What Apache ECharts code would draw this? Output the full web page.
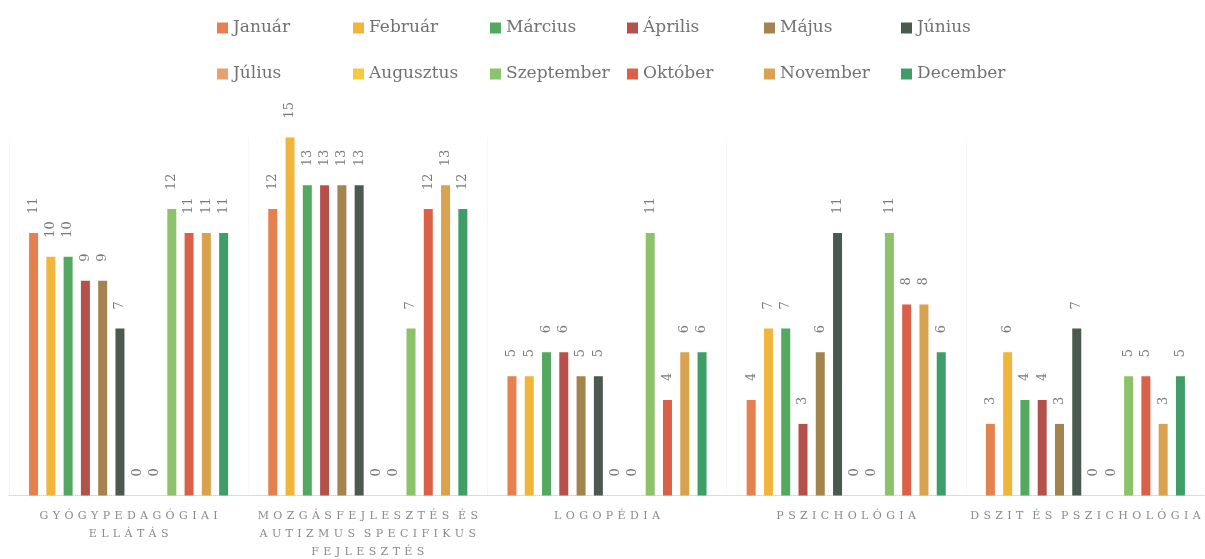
<!DOCTYPE html>
<html>
<head>
<meta charset="utf-8">
<script src="https://cdn.jsdelivr.net/npm/echarts@6/dist/echarts.min.js"></script>
<style>
  html, body { margin: 0; padding: 0; background: #ffffff; }
  #chart { width: 1205px; height: 559px; }
</style>
</head>
<body>
<div id="chart"></div>
<script>
// Service categories (x axis)
const categories = [
  'GYÓGYPEDAGÓGIAI\nELLÁTÁS',
  'MOZGÁSFEJLESZTÉS ÉS\nAUTIZMUS SPECIFIKUS\nFEJLESZTÉS',
  'LOGOPÉDIA',
  'PSZICHOLÓGIA',
  'DSZIT ÉS PSZICHOLÓGIA'
];

// Months (one series each)
const months = [
  'Január', 'Február', 'Március', 'Április', 'Május', 'Június',
  'Július', 'Augusztus', 'Szeptember', 'Október', 'November', 'December'
];

// Values per month, in category order
const januar     = [11, 12, 5, 4, 3];
const februar    = [10, 15, 5, 7, 6];
const marcius    = [10, 13, 6, 7, 4];
const aprilis    = [9, 13, 6, 3, 4];
const majus      = [9, 13, 5, 6, 3];
const junius     = [7, 13, 5, 11, 7];
const julius     = [0, 0, 0, 0, 0];
const augusztus  = [0, 0, 0, 0, 0];
const szeptember = [12, 7, 11, 11, 5];
const oktober    = [11, 12, 4, 8, 5];
const november   = [11, 13, 6, 8, 3];
const december   = [11, 12, 6, 6, 5];

const monthValues = [
  januar, februar, marcius, aprilis, majus, junius,
  julius, augusztus, szeptember, oktober, november, december
];

const colors = [
  '#E5814F', '#F2B53C', '#55A860', '#B4514A', '#A3844F', '#4B5A50',
  '#E9A06E', '#F3CB3D', '#8CC36A', '#DA6148', '#D9A24F', '#3F9E68'
];

const serif = '"DejaVu Serif", "Liberation Serif", serif';

// widen the caption lettering
function spaced(text) {
  return text.split('\n').map(function (line) {
    return line.split(' ').map(function (w) {
      return Array.from(w).join('\u2009\u2009');
    }).join('\u2009\u2009\u2009\u2009');
  }).join('\n');
}

const series = months.map(function (name, i) {
  return {
    name: name,
    type: 'bar',
    data: monthValues[i],
    barWidth: 9,
    barGap: '92%',
    itemStyle: { color: colors[i] },
    label: {
      show: true,
      position: 'top',
      rotate: 90,
      align: 'left',
      verticalAlign: 'middle',
      distance: 19,
      color: '#7a7a7a',
      fontFamily: serif,
      fontSize: 13
    }
  };
});

// legend: six columns of two entries
const legendColumnsX = [212, 348, 485, 622, 759, 896];
const legends = legendColumnsX.map(function (x, c) {
  return {
    orient: 'vertical',
    left: x,
    top: 13,
    itemWidth: 11,
    itemHeight: 11,
    itemGap: 26,
    icon: 'rect',
    data: [months[c], months[c + 6]],
    textStyle: {
      color: '#727272',
      fontFamily: serif,
      fontSize: 17,
      lineHeight: 20
    }
  };
});

const chart = echarts.init(document.getElementById('chart'), null, { renderer: 'canvas' });
chart.setOption({
  animation: false,
  backgroundColor: '#ffffff',
  color: colors,
  legend: legends,
  grid: {
    left: 9,
    right: 0,
    top: 137.5,
    bottom: 63.5,
    containLabel: false,
    outerBoundsMode: 'none'
  },
  xAxis: {
    type: 'category',
    data: categories,
    axisLine: { show: true, lineStyle: { color: '#d4d4d4', type: 'dotted', width: 1 } },
    axisTick: { show: false },
    splitLine: { show: true, lineStyle: { color: '#f7f7f7', width: 1 } },
    axisLabel: {
      interval: 0,
      margin: 12,
      color: '#8a8a8a',
      fontFamily: serif,
      fontSize: 11,
      lineHeight: 18,
      formatter: function (v) { return spaced(v); }
    }
  },
  yAxis: {
    type: 'value',
    min: 0,
    max: 15,
    show: false,
    splitLine: { show: false }
  },
  series: series
});
</script>
</body>
</html>
